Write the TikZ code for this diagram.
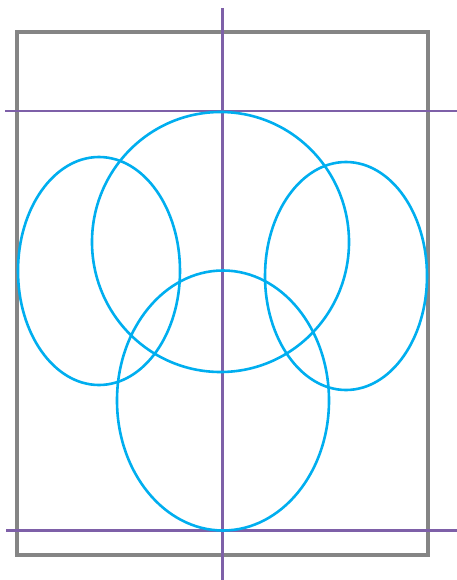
\documentclass[tikz,border=0pt]{standalone}
\usepackage{xcolor}
\usepackage{tikz}
\usetikzlibrary{positioning}
\definecolor{frame}{HTML}{858585}
\definecolor{guide}{HTML}{7E60A8}
\definecolor{blob}{HTML}{00AEEF}

\begin{document}
\begin{tikzpicture}[x=1pt,y=-1pt,
  framebox/.style={draw=frame,line width=4pt},
  guideline/.style={draw=guide,line width=2.4pt},
  blobline/.style={draw=blob,line width=2.6pt}]
  \useasboundingbox (0,0) rectangle (457,580);
  \draw[framebox] (17,32) rectangle (427.5,554.5);
  \draw[guideline] (222.3,8) -- (222.3,580);
  \draw[guideline] (5,111) -- (457,111);
  \draw[guideline] (6,530.5) -- (457,530.5);
  \draw[blobline] (99,271) ellipse [x radius=81,y radius=114];
  \draw[blobline] (346,276) ellipse [x radius=81,y radius=114];
  \draw[blobline] (220.5,242) ellipse [x radius=128.5,y radius=130];
  \draw[blobline] (223,400.5) ellipse [x radius=106,y radius=130];
\end{tikzpicture}
\end{document}
